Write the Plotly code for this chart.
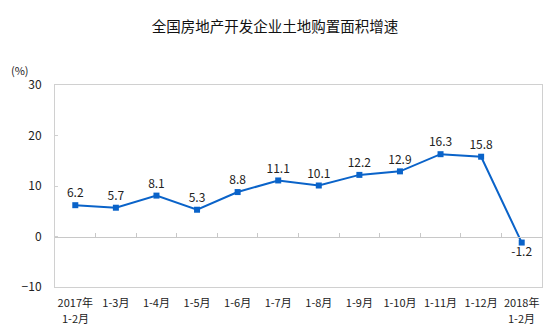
import plotly.graph_objects as go

categories = ["2017年", "1-3月", "1-4月", "1-5月", "1-6月", "1-7月",
              "1-8月", "1-9月", "1-10月", "1-11月", "1-12月", "2018年"]
second_lines = {0: "1-2月", 11: "1-2月"}
values = [6.2, 5.7, 8.1, 5.3, 8.8, 11.1, 10.1, 12.2, 12.9, 16.3, 15.8, -1.2]
labels = ["6.2", "5.7", "8.1", "5.3", "8.8", "11.1", "10.1", "12.2", "12.9", "16.3", "15.8", "-1.2"]
y_ticks = [-10, 0, 10, 20, 30]

FONT = "Noto Sans CJK SC"
n = len(categories)
idx = list(range(n))

fig = go.Figure()
fig.add_trace(go.Scatter(
    x=idx, y=values, mode="lines+markers+text",
    line=dict(color="#0a63c9", width=2),
    marker=dict(symbol="square", size=6, color="#0a63c9"),
    text=labels,
    textposition=["top center"] * (n - 1) + ["bottom center"],
    textfont=dict(family=FONT, size=12, color="#222"),
    cliponaxis=False, showlegend=False,
))
fig.add_trace(go.Scatter(x=[-0.5, n - 0.5], y=[0, 0], xaxis="x2", mode="lines",
                         line=dict(width=0), showlegend=False, hoverinfo="skip"))

annotations = [dict(text="(%)", xref="paper", yref="paper", x=-0.095, y=1.075,
                    xanchor="left", yanchor="middle", showarrow=False,
                    font=dict(family=FONT, size=11, color="#222"))]
for i, t in second_lines.items():
    annotations.append(dict(text=t, x=i, xref="x", y=0, yref="paper", yshift=-31,
                            xanchor="center", yanchor="middle", showarrow=False,
                            font=dict(family=FONT, size=11, color="#222")))

fig.update_layout(
    width=550, height=333,
    margin=dict(l=55, r=8, t=85, b=46),
    paper_bgcolor="white", plot_bgcolor="white",
    title=dict(text="全国房地产开发企业土地购置面积增速", x=0.5, xanchor="center",
               y=0.92, yanchor="middle",
               font=dict(family=FONT, size=14.5, color="#111")),
    xaxis=dict(range=[-0.5, n - 0.5], tickmode="array", tickvals=idx, ticktext=categories,
               showgrid=False, zeroline=False, showline=True, mirror=True,
               linecolor="#d0d0d0", linewidth=1, ticks="",
               tickfont=dict(family=FONT, size=11, color="#222"),
               ticklabelstandoff=6),
    xaxis2=dict(range=[-0.5, n - 0.5], overlaying="x", anchor="free", position=0.25,
                side="bottom", showline=True, linecolor="#c8c8c8", linewidth=1,
                tickmode="array", tickvals=[i + 0.5 for i in range(n - 1)],
                ticks="inside", ticklen=4, tickcolor="#c8c8c8",
                showticklabels=False, showgrid=False, zeroline=False),
    yaxis=dict(range=[-10, 30], tickmode="array", tickvals=y_ticks,
               showgrid=False, zeroline=False, showline=True, mirror=True,
               linecolor="#d0d0d0", linewidth=1, ticks="inside", ticklen=3,
               tickcolor="#d0d0d0",
               tickfont=dict(family=FONT, size=12, color="#222"),
               ticklabelstandoff=10),
    annotations=annotations,
)

fig.write_html("out.html")
